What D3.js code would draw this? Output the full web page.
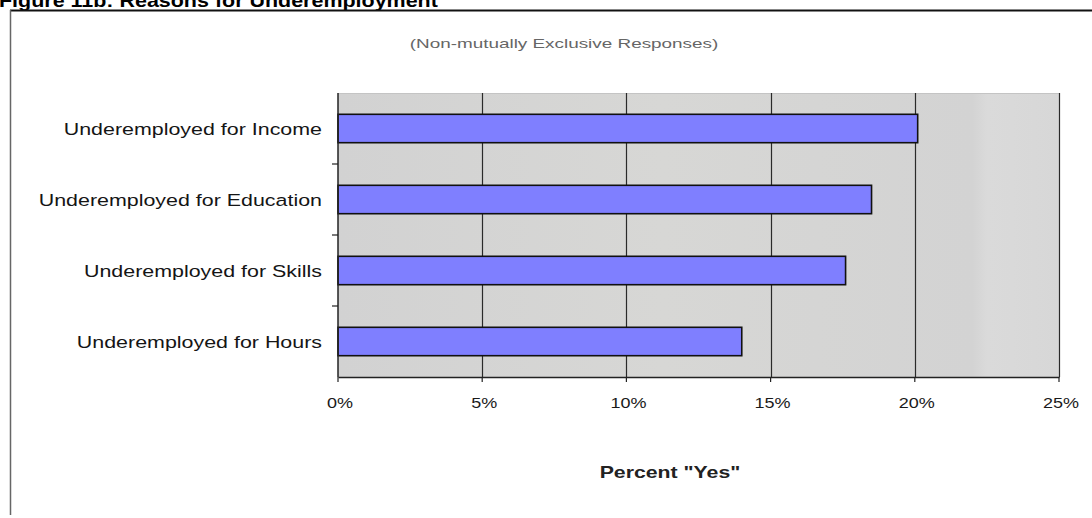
<!DOCTYPE html>
<html>
<head>
<meta charset="utf-8">
<script src="https://cdn.jsdelivr.net/npm/d3@7"></script>
<style>
  html, body { margin: 0; padding: 0; background: #fff; }
  svg { display: block; font-family: Arial, "Liberation Sans", sans-serif; }
</style>
</head>
<body>
<svg id="chart" width="1092" height="518"></svg>
<script>
// Reasons for underemployment, percent answering "Yes"
const categories = [
  "Underemployed for Income",
  "Underemployed for Education",
  "Underemployed for Skills",
  "Underemployed for Hours"
];
const percentYes = [20.1, 18.5, 17.6, 14.0];
const xTickValues = [0, 5, 10, 15, 20, 25];

const titleText = "Figure 11b: Reasons for Underemployment";
const subtitleText = "(Non-mutually Exclusive Responses)";
const xAxisTitle = "Percent \"Yes\"";

const rows = categories.map((c, i) => ({ category: c, value: percentYes[i] }));

const svg = d3.select("#chart");
const W = 1092, H = 518;
const plot = { left: 338, right: 1059, top: 93, bottom: 377 };
const stretch = 1.2; // horizontal text stretch used throughout the figure

const x = d3.scaleLinear().domain([0, 25]).range([plot.left, plot.right]);
const y = d3.scaleBand().domain(categories)
  .range([plot.top, plot.bottom]).paddingInner(0.6).paddingOuter(0.3);

// Figure title and frame
svg.append("text")
  .attr("transform", "translate(-1,7) scale(1.13,1)")
  .attr("font-size", 19).attr("font-weight", "bold").attr("fill", "#000")
  .text(titleText);
svg.append("line").attr("x1", 10).attr("x2", W).attr("y1", 10.5).attr("y2", 10.5)
  .attr("stroke", "#111").attr("stroke-width", 2);
svg.append("line").attr("x1", 10.5).attr("x2", 10.5).attr("y1", 10).attr("y2", H - 3)
  .attr("stroke", "#666").attr("stroke-width", 1.5);

// Subtitle
svg.append("text")
  .attr("transform", "translate(564,48) scale(1.4,1)")
  .attr("text-anchor", "middle").attr("font-size", 13.5).attr("fill", "#666")
  .text(subtitleText);

// Plot background
const defs = svg.append("defs");
const grad = defs.append("linearGradient").attr("id", "plotBg")
  .attr("x1", "0").attr("x2", "1").attr("y1", "0").attr("y2", "0");
grad.append("stop").attr("offset", "0").attr("stop-color", "#d2d2d2");
grad.append("stop").attr("offset", "0.45").attr("stop-color", "#d7d7d5");
grad.append("stop").attr("offset", "0.88").attr("stop-color", "#d3d3d3");
grad.append("stop").attr("offset", "0.9").attr("stop-color", "#dadada");
grad.append("stop").attr("offset", "1").attr("stop-color", "#d7d7d7");
svg.append("rect")
  .attr("x", plot.left).attr("y", plot.top)
  .attr("width", plot.right - plot.left).attr("height", plot.bottom - plot.top)
  .attr("fill", "url(#plotBg)");
svg.append("line").attr("x1", plot.left).attr("x2", plot.right)
  .attr("y1", plot.top + 0.5).attr("y2", plot.top + 0.5)
  .attr("stroke", "#c4c4c4").attr("stroke-width", 1);

// Vertical gridlines
svg.append("g").selectAll("line").data(xTickValues.slice(1)).join("line")
  .attr("x1", d => Math.round(x(d)) + 0.5).attr("x2", d => Math.round(x(d)) + 0.5)
  .attr("y1", plot.top).attr("y2", plot.bottom)
  .attr("stroke", "#2a2a2a").attr("stroke-width", 1.2);

// Bars
svg.append("g").selectAll("rect").data(rows).join("rect")
  .attr("x", x(0)).attr("y", d => y(d.category))
  .attr("width", d => x(d.value) - x(0)).attr("height", y.bandwidth())
  .attr("fill", "#7f7fff").attr("stroke", "#111").attr("stroke-width", 1.6);

// X axis
const xAxis = svg.append("g").attr("transform", `translate(0,${plot.bottom})`)
  .call(d3.axisBottom(x).tickValues(xTickValues).tickSize(5).tickSizeOuter(0)
    .tickFormat(d => d + "%"));
xAxis.select(".domain").attr("stroke", "#222").attr("stroke-width", 1.5);
xAxis.selectAll(".tick line").attr("stroke", "#222").attr("stroke-width", 1.2);
xAxis.selectAll(".tick text")
  .attr("font-size", 15).attr("fill", "#1a1a1a").attr("dy", null).attr("y", 31)
  .attr("font-family", "Arial, 'Liberation Sans', sans-serif");
// keep stretched labels centred on their ticks
xAxis.selectAll(".tick").each(function (d) {
  const g = d3.select(this);
  g.attr("transform", null);
  g.select("line").attr("transform", `translate(${x(d)},0)`);
  g.select("text").attr("transform", `translate(${x(d) + 2},0) scale(${stretch},1)`);
});

// Y axis: category labels with boundary ticks
const yAxis = svg.append("g").attr("transform", `translate(${plot.left},0)`);
yAxis.append("line").attr("x1", 0).attr("x2", 0).attr("y1", plot.top).attr("y2", plot.bottom)
  .attr("stroke", "#222").attr("stroke-width", 1.5);
const boundaries = categories.slice(1).map(c => y(c) - y.step() * y.paddingInner() / 2);
yAxis.selectAll("line.tick").data(boundaries).join("line").attr("class", "tick")
  .attr("x1", -6).attr("x2", 0).attr("y1", d => d).attr("y2", d => d)
  .attr("stroke", "#222").attr("stroke-width", 1.2);
yAxis.selectAll("text").data(categories).join("text")
  .attr("transform", d => `translate(-16,${y(d) + y.bandwidth() / 2 + 6}) scale(1.26,1)`)
  .attr("text-anchor", "end").attr("font-size", 17).attr("fill", "#151515")
  .text(d => d);

// X axis title
svg.append("text")
  .attr("transform", "translate(670,478) scale(1.25,1)")
  .attr("text-anchor", "middle").attr("font-size", 17).attr("font-weight", "bold")
  .attr("fill", "#222").text(xAxisTitle);
</script>
</body>
</html>
